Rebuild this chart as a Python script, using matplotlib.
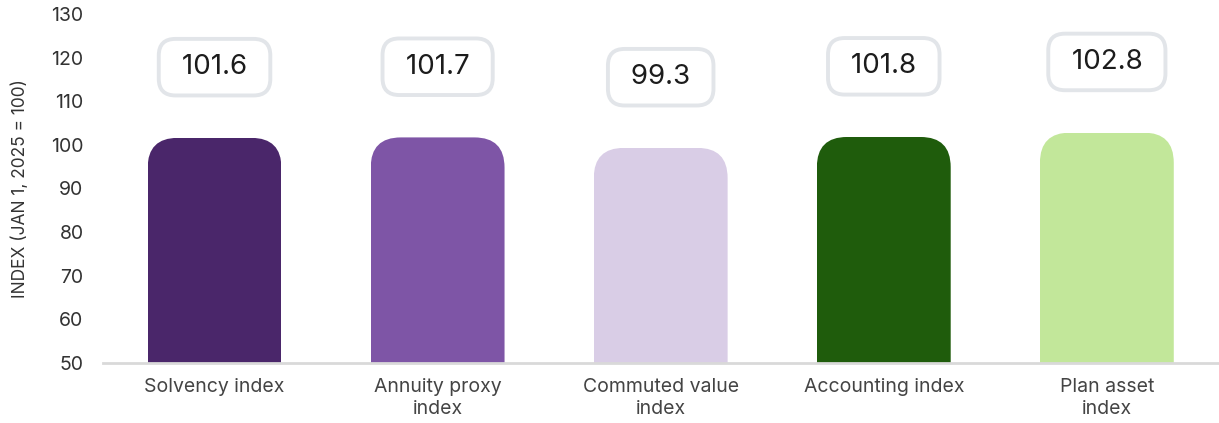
import matplotlib
matplotlib.use('Agg')
import matplotlib.pyplot as plt
from matplotlib.patches import FancyBboxPatch

categories = ['Solvency index', 'Annuity proxy\nindex', 'Commuted value\nindex',
              'Accounting index', 'Plan asset\nindex']
values = [101.6, 101.7, 99.3, 101.8, 102.8]
colors = ['#4a266a', '#7e55a6', '#d9cde6', '#1f5c0c', '#c2e79a']
y_ticks = [50, 60, 70, 80, 90, 100, 110, 120, 130]

plt.rcParams['font.family'] = ['Inter', 'DejaVu Sans']

fig = plt.figure(figsize=(12.19, 4.23), dpi=100)
ax = fig.add_axes([0.0845, 0.142, 0.915, 0.825])

x = list(range(len(categories)))
bars = ax.bar(x, [v - 50 for v in values], bottom=50, width=0.6, color=colors, zorder=2)

ax.set_xlim(-0.5, len(categories) - 0.5)
ax.set_ylim(50, 130)
ax.set_yticks(y_ticks)

# round the top corners of each bar with a clip path
rx = 0.135
ry = 6.9
for b in bars:
    clip = FancyBboxPatch((b.get_x(), b.get_y() - 20), b.get_width(), b.get_height() + 20,
                          boxstyle=f'round,pad=0,rounding_size={rx}',
                          mutation_aspect=ry / rx, transform=ax.transData,
                          facecolor='none', edgecolor='none')
    b.set_clip_path(clip)

# value labels in rounded boxes
for xi, v in zip(x, values):
    ax.text(xi, v + 16.2, f' {v:.1f} ', ha='center', va='center', fontsize=20, color='#1c1c1c',
            bbox=dict(boxstyle='round,pad=0.55,rounding_size=0.6', facecolor='white',
                      edgecolor='#e2e5e9', linewidth=2.8), zorder=3)

for s in ['top', 'right', 'left']:
    ax.spines[s].set_visible(False)
ax.spines['bottom'].set_color('#d9d9d9')
ax.spines['bottom'].set_linewidth(2)
ax.spines['bottom'].set_zorder(3)

ax.set_xticks(x)
ax.set_xticklabels(categories, fontsize=14, color='#444444', linespacing=1.25)
ax.tick_params(axis='x', length=0, pad=11)
ax.tick_params(axis='y', length=0, pad=14, labelsize=14, labelcolor='#333333')

ax.set_ylabel('INDEX (JAN 1, 2025 = 100)', fontsize=12.5, color='#333333', labelpad=16)

fig.savefig('out.png', dpi=100, facecolor='white')
